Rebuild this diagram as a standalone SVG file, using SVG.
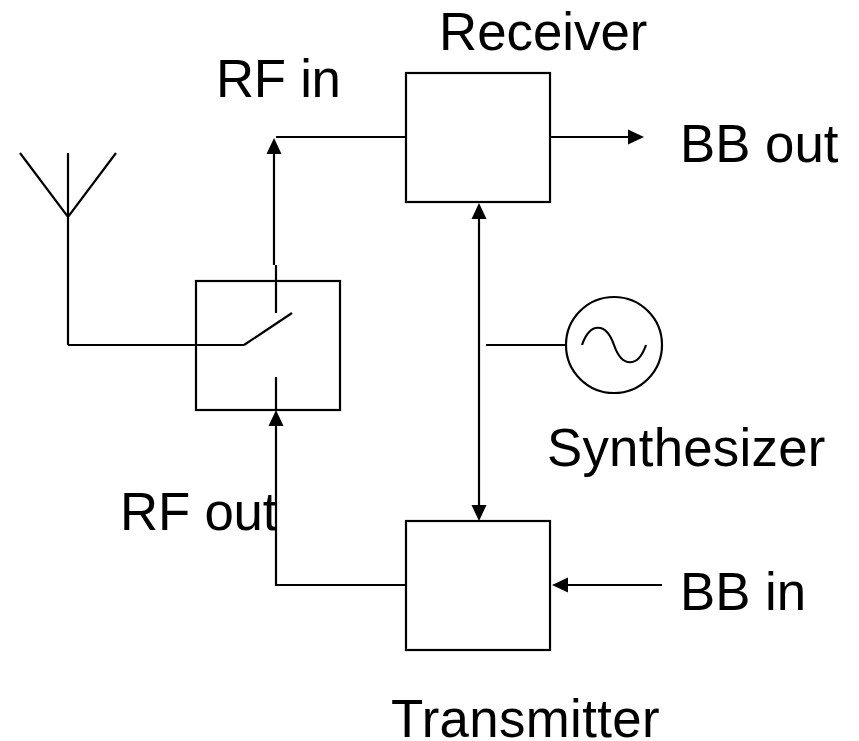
<svg xmlns="http://www.w3.org/2000/svg" width="859" height="741" viewBox="0 0 859 741">
<style>
.l{fill:none;stroke:#000;stroke-width:2.2}
.b{fill:#fff;stroke:#000;stroke-width:2.2}
.t{font-family:"Liberation Sans",Arial,sans-serif;font-size:52.8px;fill:#000}
</style>
<defs>
<marker id="a" markerUnits="userSpaceOnUse" markerWidth="18" markerHeight="16" refX="12" refY="8" orient="auto"><path d="M0 0.5L16 8L0 15.5Z" fill="#000"/></marker>
</defs>
<rect width="859" height="741" fill="#fff"/>
<g id="receiver"><rect class="b" x="406" y="73" width="144" height="129"/><text class="t" x="439" y="50">Receiver</text></g>
<g id="transmitter"><rect class="b" x="406" y="521" width="144" height="129"/><text class="t" x="391" y="737" letter-spacing="0.35">Transmitter</text></g>
<g id="switch"><rect class="b" x="196" y="281" width="144" height="129"/><path class="l" d="M244 345L292 313"/></g>
<g id="antenna"><path class="l" d="M20 153L68 217L116 153M68 153V345"/></g>
<g id="synthesizer"><circle class="b" cx="614" cy="345" r="48"/><path class="l" d="M582 345C590 322 606 322 614 345C622 368 638 368 646 345"/><text class="t" x="547" y="466" letter-spacing="0.25">Synthesizer</text></g>
<g id="connectors">
<path class="l" d="M68 345H244"/>
<path class="l" d="M276 313V265"/>
<path class="l" d="M274 265V142" marker-end="url(#a)"/>
<path class="l" d="M276 137H406"/>
<path class="l" d="M550 137H640" marker-end="url(#a)"/>
<path class="l" d="M276 377V410"/>
<path class="l" d="M406 585H276V414" marker-end="url(#a)"/>
<path class="l" d="M662 585H556" marker-end="url(#a)"/>
<path class="l" d="M479 300V207" marker-end="url(#a)"/>
<path class="l" d="M479 300V517" marker-end="url(#a)"/>
<path class="l" d="M486 345H566"/>
</g>
<g id="labels">
<text class="t" x="216" y="97" letter-spacing="-0.3">RF in</text>
<text class="t" x="680" y="162">BB out</text>
<text class="t" x="120" y="530" letter-spacing="-0.2">RF out</text>
<text class="t" x="680" y="610">BB in</text>
</g>
</svg>
